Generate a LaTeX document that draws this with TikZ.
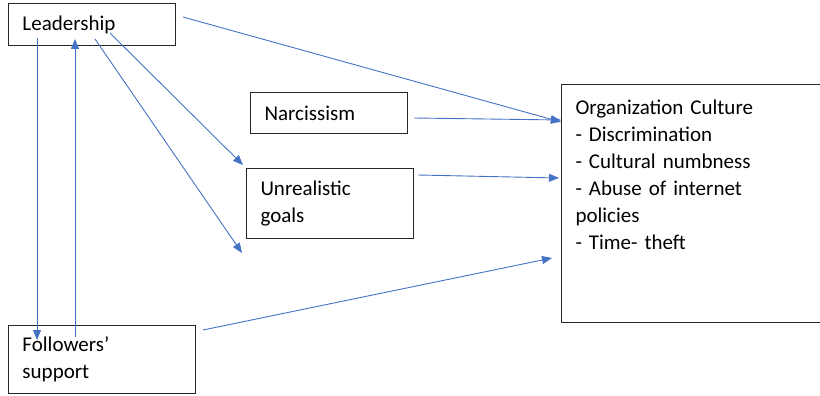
\documentclass[tikz,border=0pt]{standalone}
\usepackage{fontspec}
\setmainfont{Carlito}
\usepackage{xcolor}
\usetikzlibrary{arrows.meta}
\definecolor{linkblue}{RGB}{68,114,196}

\begin{document}
\begin{tikzpicture}[x=1pt,y=-1pt,
    box/.style={draw=black!85, line width=1pt, anchor=north west, align=left,
      inner xsep=14pt, inner ysep=0pt, font=\fontsize{21}{27}\selectfont},
    link/.style={draw=linkblue, line width=0.9pt, -{Triangle[length=10pt,width=8pt]}}]
  \useasboundingbox (0,0) rectangle (820,396);
  % boxes
  \node[box, text width=139pt, minimum height=42pt] (lead) at (8,3) {Leadership};
  \node[box, text width=129pt, minimum height=41pt] (narc) at (250,92) {Narcissism};
  \node[box, text width=139pt, minimum height=70pt] (goals) at (246,168) {Unrealistic\\goals};
  \node[box, text width=159pt, minimum height=68pt] (follow) at (8,325) {Followers'\\support};
  \node[box, minimum width=262pt, minimum height=238pt] (culture) at (561,84) {};
  \node[box, draw=none, text width=230pt, inner ysep=15pt] (culttext) at (561,84)
    {Organization Culture\\- Discrimination\\- Cultural numbness\\- Abuse of internet\\policies\\- Time- theft};
  % arrow ends
  \coordinate (a1) at (183,17);  \coordinate (b1) at (561,122);
  \coordinate (a2) at (414,118); \coordinate (b2) at (561,120);
  \coordinate (a3) at (418,175); \coordinate (b3) at (559,178);
  \coordinate (a4) at (203,330); \coordinate (b4) at (552,258);
  \coordinate (a5) at (110,33);  \coordinate (b5) at (243,165);
  \coordinate (a6) at (95,39);   \coordinate (b6) at (242,253);
  \coordinate (a7) at (37,38);   \coordinate (b7) at (37,340);
  \coordinate (a8) at (75,337);  \coordinate (b8) at (75,39);
  % links
  \foreach \i in {1,...,8}
    \draw[link] (a\i) -- (b\i);
\end{tikzpicture}
\end{document}
